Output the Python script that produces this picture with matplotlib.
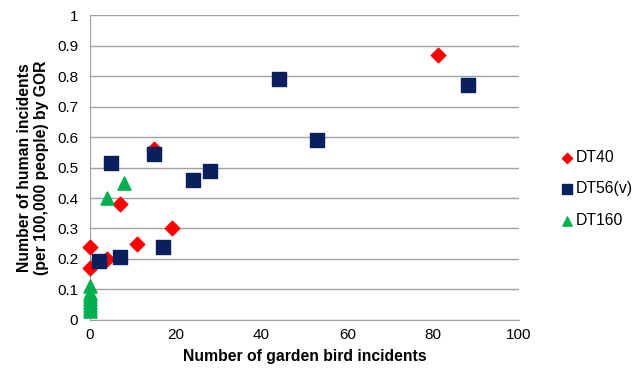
import matplotlib
matplotlib.use("Agg")
import matplotlib.pyplot as plt
from matplotlib.ticker import MultipleLocator

plt.rcParams['font.family'] = ['Liberation Sans', 'DejaVu Sans']

# garden bird incidents vs human incidents per GOR
dt40_x = [0, 0, 4, 7, 11, 15, 19, 81]
dt40_y = [0.24, 0.17, 0.20, 0.38, 0.25, 0.56, 0.30, 0.87]

dt56_x = [2, 5, 7, 15, 17, 24, 28, 44, 53, 88]
dt56_y = [0.195, 0.515, 0.205, 0.545, 0.24, 0.46, 0.49, 0.79, 0.59, 0.77]

dt160_x = [4, 8, 0, 0, 0, 0, 0, 0, 0, 0]
dt160_y = [0.40, 0.45, 0.11, 0.09, 0.08, 0.07, 0.06, 0.05, 0.04, 0.03]

fig = plt.figure(figsize=(6.37, 3.77), dpi=100)
ax = fig.add_axes([0.1413, 0.1512, 0.6735, 0.8090])

ax.scatter(dt40_x, dt40_y, marker='D', s=55, color='#FF0000', label='DT40', zorder=3, clip_on=False)
ax.scatter(dt56_x, dt56_y, marker='s', s=110, color='#0A1F5E', label='DT56(v)', zorder=4, clip_on=False)
ax.scatter(dt160_x, dt160_y, marker='^', s=90, color='#00B050', label='DT160', zorder=5, clip_on=False)

ax.set_xlim(0, 100)
ax.set_ylim(0, 1)
ax.xaxis.set_major_locator(MultipleLocator(20))
ax.yaxis.set_major_locator(MultipleLocator(0.1))
ax.yaxis.set_major_formatter(plt.FuncFormatter(lambda v, p: '%g' % round(v, 1)))

ax.grid(axis='y', color='#A0A0A0', linewidth=1)
ax.set_axisbelow(True)
for s in ['top', 'right']:
    ax.spines[s].set_visible(False)
ax.spines['left'].set_color('#A0A0A0')
ax.spines['bottom'].set_color('#A0A0A0')
ax.tick_params(length=0, labelsize=11)
ax.tick_params(axis='y', pad=8.5)
ax.tick_params(axis='x', pad=6)

ax.set_xlabel('Number of garden bird incidents', fontsize=11.3, fontweight='bold', labelpad=5)
ax.set_ylabel('Number of human incidents\n(per 100,000 people) by GOR', fontsize=11.3,
              fontweight='bold', labelpad=5.5)

ax.legend(loc='center left', bbox_to_anchor=(1.06, 0.43), frameon=False, fontsize=11.3,
          handletextpad=0.1, labelspacing=1.05, handlelength=1.0, markerscale=0.7)

fig.savefig('out.png', dpi=100)
